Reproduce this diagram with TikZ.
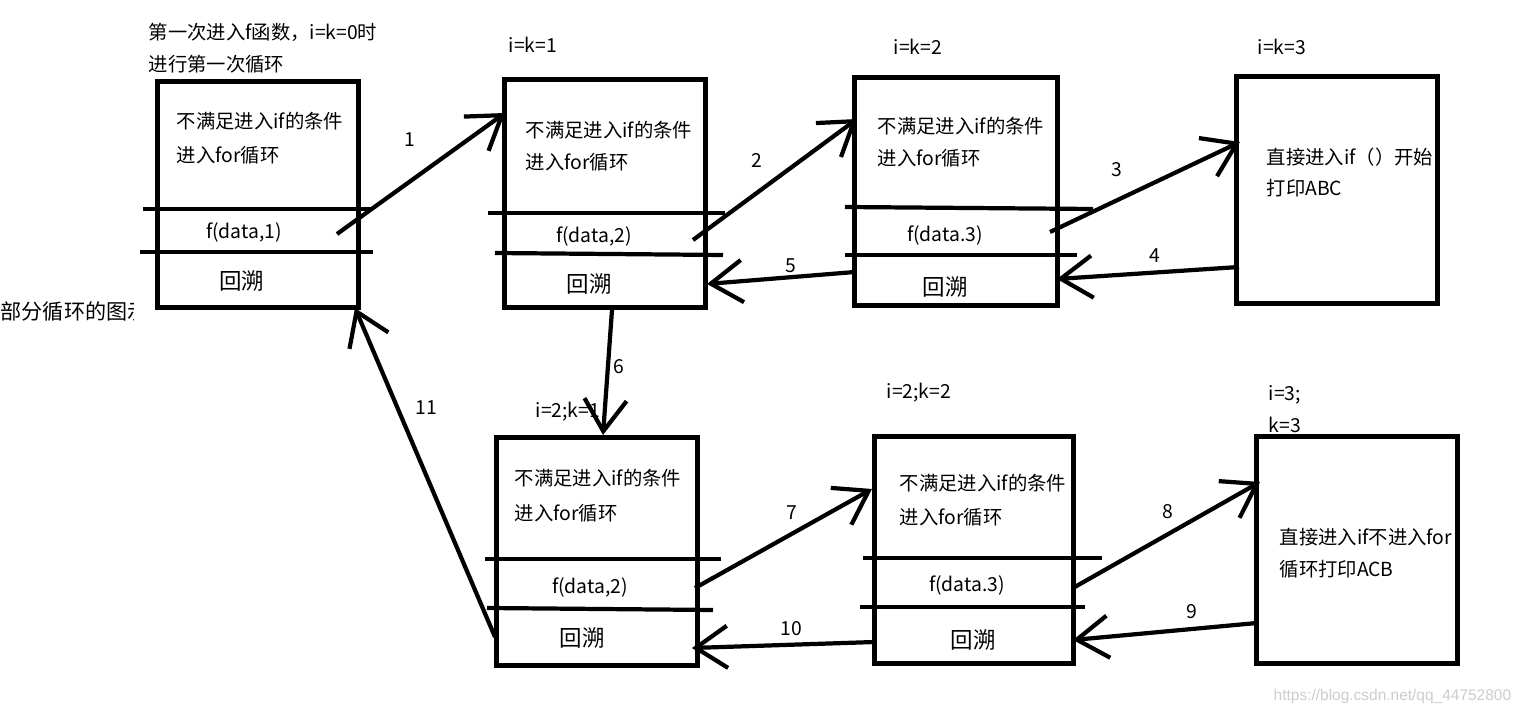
\documentclass[tikz,border=0pt]{standalone}
\usepackage{fontspec}
\setmainfont{Noto Sans CJK SC}
\newfontfamily\wmfont{Liberation Sans}
\usetikzlibrary{arrows.meta}

\begin{document}
\begin{tikzpicture}[x=0.01cm,y=-0.01cm,
	box/.style={draw,line width=1.4pt,inner sep=0pt},
	bar/.style={line width=1.2pt},
	arr/.style={line width=1.2pt,-{Straight Barb[length=9pt,width=12pt]}},
	txt/.style={font=\fontsize{5.5}{6.6}\selectfont,inner sep=0pt},
	back/.style={font=\fontsize{6.4}{7.5}\selectfont,inner sep=0pt}]
	\useasboundingbox (0,0) rectangle (1526,716);

	% boxes, top row
	\node[box,minimum width=2cm,minimum height=2.25cm] (call1) at (258,194.5) {};
	\node[box,minimum width=2cm,minimum height=2.27cm] (call2) at (605,193.5) {};
	\node[box,minimum width=2.02cm,minimum height=2.27cm] (call3) at (956,191.5) {};
	\node[box,minimum width=2cm,minimum height=2.26cm] (print1) at (1337,190) {};
	% boxes, bottom row
	\node[box,minimum width=2cm,minimum height=2.27cm] (call4) at (597,551.5) {};
	\node[box,minimum width=1.98cm,minimum height=2.26cm] (call5) at (974,550) {};
	\node[box,minimum width=2cm,minimum height=2.26cm] (print2) at (1357,550) {};

	% dividers
	\draw[bar] (143,209) -- (372,209);
	\draw[bar] (140,252) -- (373,252);
	\draw[bar] (488,213) -- (725,213);
	\draw[bar] (495,253) -- (723,255);
	\draw[bar] (845,207) -- (1093,209);
	\draw[bar] (845,255) -- (1077,255);
	\draw[bar] (485,559) -- (721,559);
	\draw[bar] (487,608) -- (713,610);
	\draw[bar] (863,558) -- (1102,558);
	\draw[bar] (860,607) -- (1085,607);

	% texts in boxes
	\node[txt,anchor=west] (c1a) at (176,121) {不满足进入if的条件};
	\node[txt,anchor=west] (c1b) at (176,155) {进入for循环};
	\node[txt] (c1f) at (244,232) {f(data,1)};
	\node[back] (c1r) at (242,281) {回溯};
	\node[txt,anchor=west] (c2a) at (525,130) {不满足进入if的条件};
	\node[txt,anchor=west] (c2b) at (525,162) {进入for循环};
	\node[txt] (c2f) at (594,236) {f(data,2)};
	\node[back] (c2r) at (589,284) {回溯};
	\node[txt,anchor=west] (c3a) at (877,126) {不满足进入if的条件};
	\node[txt,anchor=west] (c3b) at (877,158) {进入for循环};
	\node[txt] (c3f) at (945,235) {f(data.3)};
	\node[back] (c3r) at (945,287) {回溯};
	\node[txt,anchor=west] (p1a) at (1266,157) {直接进入if（）开始};
	\node[txt,anchor=west] (p1b) at (1266,188) {打印ABC};
	\node[txt,anchor=west] (c4a) at (514,478) {不满足进入if的条件};
	\node[txt,anchor=west] (c4b) at (514,513) {进入for循环};
	\node[txt] (c4f) at (590,587) {f(data,2)};
	\node[back] (c4r) at (582,638) {回溯};
	\node[txt,anchor=west] (c5a) at (899,483) {不满足进入if的条件};
	\node[txt,anchor=west] (c5b) at (899,517) {进入for循环};
	\node[txt] (c5f) at (967,585) {f(data.3)};
	\node[back] (c5r) at (973,640) {回溯};
	\node[txt,anchor=west] (p2a) at (1279,537) {直接进入if不进入for};
	\node[txt,anchor=west] (p2b) at (1279,569) {循环打印ACB};

	% labels over the boxes
	\node[txt,anchor=west] (head1) at (148,32) {第一次进入f函数，i=k=0时};
	\node[txt,anchor=west] (head2) at (148,64) {进行第一次循环};
	\node[txt,anchor=west] (k1) at (508,45) {i=k=1};
	\node[txt,anchor=west] (k2) at (893,47) {i=k=2};
	\node[txt,anchor=west] (k3) at (1257,47) {i=k=3};
	\node[txt,anchor=west] (k4) at (535,412) {i=2;k=1};
	\node[txt,anchor=west] (k5) at (886,393) {i=2;k=2};
	\node[txt,anchor=west] (k6a) at (1268,395) {i=3;};
	\node[txt,anchor=west] (k6b) at (1268,425) {k=3};
	\begin{scope}
		\clip (0,290) rectangle (133,340);
		\node[txt,font=\fontsize{6}{7}\selectfont,anchor=west] (part) at (0,312) {部分循环的图示};
	\end{scope}

	% arrow ends
	\coordinate (s1) at (337,234);  \coordinate (e1) at (505,113);
	\coordinate (s2) at (693,240);  \coordinate (e2) at (857,119);
	\coordinate (s3) at (1050,232); \coordinate (e3) at (1240,142);
	\coordinate (s4) at (1239,267); \coordinate (e4) at (1057,279);
	\coordinate (s5) at (855,272);  \coordinate (e5) at (707,284);
	\coordinate (s6) at (612,310);  \coordinate (e6) at (603,435);
	\coordinate (s7) at (695,588);  \coordinate (e7) at (872,489);
	\coordinate (s8) at (1073,588); \coordinate (e8) at (1260,482);
	\coordinate (s9) at (1257,623); \coordinate (e9) at (1073,640);
	\coordinate (s10) at (875,642); \coordinate (e10) at (692,648);
	\coordinate (s11) at (495,637); \coordinate (e11) at (355,308);

	\draw[arr] (s1) -- (e1);
	\draw[arr] (s2) -- (e2);
	\draw[arr] (s3) -- (e3);
	\draw[arr] (s4) -- (e4);
	\draw[arr] (s5) -- (e5);
	\draw[arr] (s6) -- (e6);
	\draw[arr] (s7) -- (e7);
	\draw[arr] (s8) -- (e8);
	\draw[arr] (s9) -- (e9);
	\draw[arr] (s10) -- (e10);
	\draw[arr] (s11) -- (e11);

	% step numbers
	\node[txt] (n1) at (410,140) {1};
	\node[txt] (n2) at (757,160) {2};
	\node[txt] (n3) at (1117,170) {3};
	\node[txt] (n4) at (1155,256) {4};
	\node[txt] (n5) at (791,266) {5};
	\node[txt] (n6) at (619,367) {6};
	\node[txt] (n7) at (792,513) {7};
	\node[txt] (n8) at (1168,512) {8};
	\node[txt] (n9) at (1192,612) {9};
	\node[txt] (n10) at (791,629) {10};
	\node[txt] (n11) at (426,408) {11};

	\node[anchor=west,inner sep=0pt,text=gray!40,font=\wmfont\fontsize{4.4}{5}\selectfont] (mark) at (1273,697) {https://blog.csdn.net/qq\_44752800};
\end{tikzpicture}
\end{document}
